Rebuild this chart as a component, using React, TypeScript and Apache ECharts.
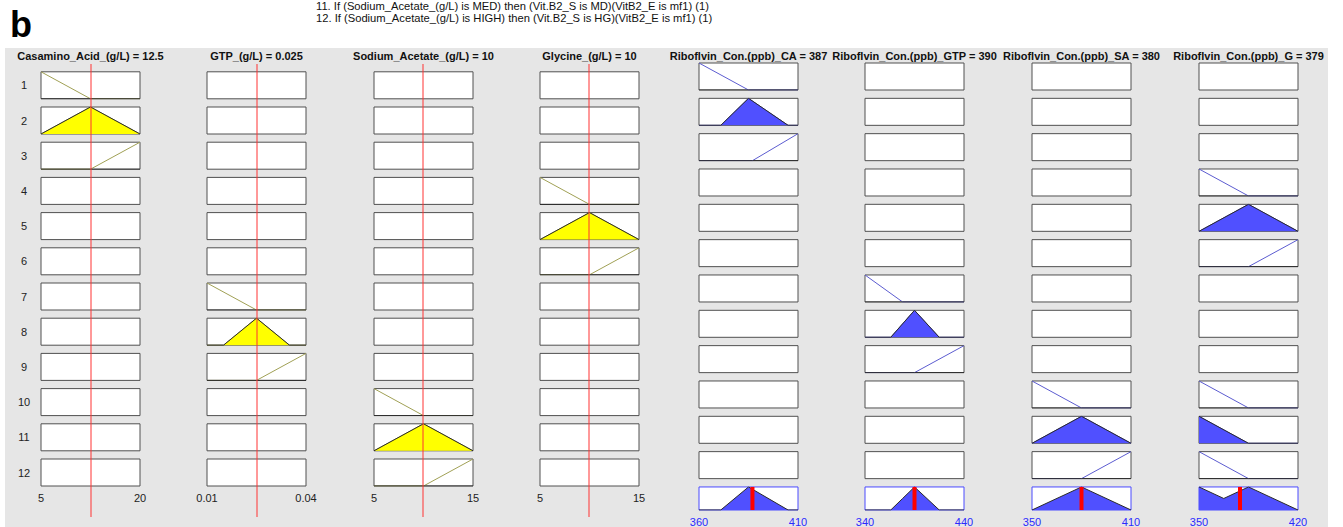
import React, { useEffect, useRef } from "react";
import * as echarts from "echarts";

type Pt = [number, number];

// ---- Input variables ----
const inputNames = ["Casamino_Acid_(g/L)", "GTP_(g/L)", "Sodium_Acetate_(g/L)", "Glycine_(g/L)"];
const inputRanges: Pt[] = [[5, 20], [0.01, 0.04], [5, 15], [5, 15]];
const inputValues = [12.5, 0.025, 10, 10];

// membership functions as vertex lists [x, degree]
const casaminoMfs: Record<string, Pt[]> = {
  LOW: [[5, 1], [12.5, 0], [20, 0]],
  MED: [[5, 0], [12.5, 1], [20, 0]],
  HIGH: [[5, 0], [12.5, 0], [20, 1]],
};
const gtpMfs: Record<string, Pt[]> = {
  LOW: [[0.01, 1], [0.025, 0], [0.04, 0]],
  MED: [[0.01, 0], [0.015, 0], [0.025, 1], [0.035, 0], [0.04, 0]],
  HIGH: [[0.01, 0], [0.025, 0], [0.04, 1]],
};
const sodiumAcetateMfs: Record<string, Pt[]> = {
  LOW: [[5, 1], [10, 0], [15, 0]],
  MED: [[5, 0], [10, 1], [15, 0]],
  HIGH: [[5, 0], [10, 0], [15, 1]],
};
const glycineMfs: Record<string, Pt[]> = {
  LOW: [[5, 1], [10, 0], [15, 0]],
  MED: [[5, 0], [10, 1], [15, 0]],
  HIGH: [[5, 0], [10, 0], [15, 1]],
};
const inputMfs = [casaminoMfs, gtpMfs, sodiumAcetateMfs, glycineMfs];

// ---- Output variables ----
const outputNames = [
  "Riboflvin_Con.(ppb)_CA",
  "Riboflvin_Con.(ppb)_GTP",
  "Riboflvin_Con.(ppb)_SA",
  "Riboflvin_Con.(ppb)_G",
];
const outputRanges: Pt[] = [[360, 410], [340, 440], [350, 410], [350, 420]];
const outputValues = [387, 390, 380, 379];

const caMfs: Record<string, Pt[]> = {
  LO: [[360, 1], [385, 0], [410, 0]],
  MD: [[360, 0], [371, 0], [385, 1], [405, 0], [410, 0]],
  HG: [[360, 0], [387, 0], [410, 1]],
};
const gtpOutMfs: Record<string, Pt[]> = {
  LO: [[340, 1], [378, 0], [440, 0]],
  MD: [[340, 0], [366, 0], [390, 1], [415, 0], [440, 0]],
  HG: [[340, 0], [390, 0], [440, 1]],
};
const saMfs: Record<string, Pt[]> = {
  LO: [[350, 1], [380, 0], [410, 0]],
  MD: [[350, 0], [380, 1], [410, 0]],
  HG: [[350, 0], [380, 0], [410, 1]],
};
const gMfs: Record<string, Pt[]> = {
  LO: [[350, 1], [385, 0], [420, 0]],
  MD: [[350, 0], [385, 1], [420, 0]],
  HG: [[350, 0], [385, 0], [420, 1]],
};
const outputMfs = [caMfs, gtpOutMfs, saMfs, gMfs];

// ---- Rule base: [input index, input MF, CA, GTP, SA, G] ----
type Rule = [number, string, string | null, string | null, string | null, string | null];
const rules: Rule[] = [
  [0, "LOW", "LO", null, null, null],
  [0, "MED", "MD", null, null, null],
  [0, "HIGH", "HG", null, null, null],
  [3, "LOW", null, null, null, "LO"],
  [3, "MED", null, null, null, "MD"],
  [3, "HIGH", null, null, null, "HG"],
  [1, "LOW", null, "LO", null, null],
  [1, "MED", null, "MD", null, null],
  [1, "HIGH", null, "HG", null, null],
  [2, "LOW", null, null, "LO", "LO"],
  [2, "MED", null, null, "MD", "LO"],
  [2, "HIGH", null, null, "HG", "LO"],
];
const ruleText = [
  "11. If (Sodium_Acetate_(g/L) is MED) then (Vit.B2_S is MD)(VitB2_E is mf1) (1)",
  "12. If (Sodium_Acetate_(g/L) is HIGH) then (Vit.B2_S is HG)(VitB2_E is mf1) (1)",
];

// ---- piecewise-linear helpers ----
function evalMf(pts: Pt[], x: number): number {
  if (x <= pts[0][0]) return pts[0][1];
  for (let i = 0; i < pts.length - 1; i++) {
    const [x0, y0] = pts[i];
    const [x1, y1] = pts[i + 1];
    if (x <= x1) return x1 === x0 ? y1 : y0 + ((x - x0) / (x1 - x0)) * (y1 - y0);
  }
  return pts[pts.length - 1][1];
}

function clipMf(pts: Pt[], d: number): Pt[] {
  const out: Pt[] = [];
  for (let i = 0; i < pts.length; i++) {
    const p = pts[i];
    out.push([p[0], Math.min(p[1], d)]);
    if (i < pts.length - 1) {
      const q = pts[i + 1];
      if ((p[1] - d) * (q[1] - d) < 0) {
        out.push([p[0] + ((d - p[1]) / (q[1] - p[1])) * (q[0] - p[0]), d]);
      }
    }
  }
  return out;
}

function unionMf(fns: Pt[][]): Pt[] {
  let xs = Array.from(new Set(fns.flatMap((f) => f.map((p) => p[0])))).sort((a, b) => a - b);
  const extra: number[] = [];
  for (let k = 0; k < xs.length - 1; k++) {
    const a = xs[k];
    const b = xs[k + 1];
    for (let i = 0; i < fns.length; i++) {
      for (let j = i + 1; j < fns.length; j++) {
        const da = evalMf(fns[i], a) - evalMf(fns[j], a);
        const db = evalMf(fns[i], b) - evalMf(fns[j], b);
        if (da * db < 0) extra.push(a + (da / (da - db)) * (b - a));
      }
    }
  }
  xs = Array.from(new Set(xs.concat(extra))).sort((a, b) => a - b);
  return xs.map((x) => [x, Math.max(...fns.map((f) => evalMf(f, x)))] as Pt);
}

// ---- layout ----
const FONT = '"Liberation Sans", Arial, Helvetica, sans-serif';
const inLeft = [41, 207, 374, 540];
const valueLineLeft = [41.5, 207.5, 373.5, 539.5];
const outLeft = [699, 865, 1032, 1199];
const boxW = 99;
const boxH = 27;
const inTop0 = 71.8;
const inPitch = 35.2;
const outTop0 = 63;
const outPitch = 35.33;

const inLine = "#a0a055";
const inFill = "#ffff00";
const outLine = "#5c5cd0";
const outFill = "#5050ff";
const edge = "#2a2a2a";
const valueRed = "#ff3333";

function buildOption() {
  const grid: any[] = [];
  const xAxis: any[] = [];
  const yAxis: any[] = [];
  const series: any[] = [];
  const graphic: any[] = [];

  const addGrid = (
    left: number,
    top: number,
    height: number,
    range: Pt,
    box: { show: boolean; border?: string },
    labels?: { color: string; margin: number }
  ) => {
    const g = grid.length;
    grid.push({
      left,
      top,
      width: boxW,
      height,
      show: box.show,
      backgroundColor: "#ffffff",
      borderColor: box.border || "#505050",
      borderWidth: 1,
      containLabel: false,
    });
    xAxis.push({
      type: "value",
      gridIndex: g,
      min: range[0],
      max: range[1],
      show: !!labels,
      axisLine: { show: false },
      axisTick: { show: false },
      splitLine: { show: false },
      axisLabel: labels
        ? {
            show: true,
            customValues: [range[0], range[1]],
            color: labels.color,
            fontSize: 11,
            fontFamily: FONT,
            margin: labels.margin,
          }
        : { show: false },
    });
    yAxis.push({ type: "value", gridIndex: g, min: 0, max: 1, show: false });
    return g;
  };

  const addLine = (g: number, data: Pt[], color: string, width: number, z: number, fill?: string) => {
    series.push({
      type: "line",
      xAxisIndex: g,
      yAxisIndex: g,
      data,
      symbol: "none",
      silent: true,
      lineStyle: { color, width },
      areaStyle: fill ? { color: fill, opacity: 1 } : undefined,
      z,
    });
  };

  const ruleDegree = rules.map((r) => evalMf(inputMfs[r[0]][r[1]], inputValues[r[0]]));

  // input columns
  for (let c = 0; c < inputNames.length; c++) {
    const range = inputRanges[c];
    for (let r = 0; r < rules.length; r++) {
      const last = r === rules.length - 1;
      const g = addGrid(
        inLeft[c],
        inTop0 + r * inPitch,
        boxH,
        range,
        { show: true },
        last ? { color: "#222222", margin: 6 } : undefined
      );
      const rule = rules[r];
      if (rule[0] === c) {
        const mf = inputMfs[c][rule[1]];
        addLine(g, mf, inLine, 1, 2);
        addLine(g, clipMf(mf, ruleDegree[r]), edge, 1, 3, inFill);
      }
    }
    // current input value, drawn across the whole column
    const gv = addGrid(valueLineLeft[c], 64, 453, range, { show: false });
    addLine(gv, [[inputValues[c], 0], [inputValues[c], 1]], valueRed, 1, 8);

    graphic.push({
      type: "text",
      x: inLeft[c] + boxW / 2,
      y: 56,
      z: 10,
      style: {
        text: `${inputNames[c]} = ${inputValues[c]}`,
        align: "center",
        verticalAlign: "middle",
        font: `bold 11px ${FONT}`,
        fill: "#111111",
      },
    });
  }

  // output columns
  for (let c = 0; c < outputNames.length; c++) {
    const range = outputRanges[c];
    const fired: Pt[][] = [];
    for (let r = 0; r < rules.length; r++) {
      const g = addGrid(outLeft[c], outTop0 + r * outPitch, boxH, range, { show: true });
      const name = rules[r][2 + c];
      if (name) {
        const mf = outputMfs[c][name];
        const clipped = clipMf(mf, ruleDegree[r]);
        fired.push(clipped);
        addLine(g, mf, outLine, 1, 2);
        addLine(g, clipped, edge, 1, 3, outFill);
      }
    }
    // aggregated output with defuzzified value
    const ga = addGrid(
      outLeft[c],
      outTop0 + rules.length * outPitch,
      boxH,
      range,
      { show: true, border: "#4a4aff" },
      { color: "#2a2aff", margin: 6 }
    );
    addLine(ga, unionMf(fired), edge, 1, 3, outFill);
    addLine(ga, [[outputValues[c], 0], [outputValues[c], 1]], "#ff0000", 4, 8);

    graphic.push({
      type: "text",
      x: outLeft[c] + boxW / 2,
      y: 56,
      z: 10,
      style: {
        text: `${outputNames[c]} = ${outputValues[c]}`,
        align: "center",
        verticalAlign: "middle",
        font: `bold 11px ${FONT}`,
        fill: "#111111",
      },
    });
  }

  // rule numbers
  for (let r = 0; r < rules.length; r++) {
    graphic.push({
      type: "text",
      x: 24,
      y: inTop0 + r * inPitch + boxH / 2,
      z: 10,
      style: {
        text: String(r + 1),
        align: "center",
        verticalAlign: "middle",
        font: `11px ${FONT}`,
        fill: "#222222",
      },
    });
  }

  // panel background
  graphic.push({
    type: "rect",
    z: -10,
    shape: { x: 5, y: 48, width: 1323, height: 479 },
    style: { fill: "#e6e6e6" },
  });
  // panel letter
  graphic.push({
    type: "text",
    x: 10,
    y: 24,
    z: 10,
    style: { text: "b", align: "left", verticalAlign: "middle", font: `bold 36px ${FONT}`, fill: "#000000" },
  });
  // rule listing
  ruleText.forEach((t, i) => {
    graphic.push({
      type: "text",
      x: 316,
      y: 6.4 + i * 11.2,
      z: 10,
      style: { text: t, align: "left", verticalAlign: "middle", font: `11.2px ${FONT}`, fill: "#111111" },
    });
  });

  return {
    animation: false,
    backgroundColor: "#ffffff",
    textStyle: { fontFamily: FONT },
    grid,
    xAxis,
    yAxis,
    series,
    graphic,
  };
}

export default function App() {
  const ref = useRef<HTMLDivElement | null>(null);
  useEffect(() => {
    if (!ref.current) return;
    const chart = echarts.init(ref.current, undefined, { renderer: "svg" });
    chart.setOption(buildOption() as any);
    return () => chart.dispose();
  }, []);
  return (
    <div
      ref={ref}
      style={{ position: "absolute", left: 0, top: 0, width: 1343, height: 527 }}
    />
  );
}
